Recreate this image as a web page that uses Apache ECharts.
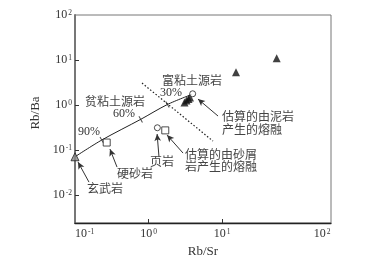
<!DOCTYPE html>
<html><head><meta charset="utf-8">
<script src="https://cdn.jsdelivr.net/npm/echarts@6/dist/echarts.min.js"></script>
<style>html,body{margin:0;padding:0;background:#fff}#c{width:379px;height:265px}</style>
</head><body><div id="c"></div>
<script>
// ---- axis ranges and ticks ----
const xMin = 0.1, xMax = 304;
const yMin = 0.0024, yMax = 100;
const xTickValues = [1, 10];
const yTickValues = [0.01, 0.1, 1, 10];
const xLabelValues = [0.1, 1, 10, 300];
const xLabelExps = ['-1', '0', '1', '2'];
const yLabelValues = [0.01, 0.1, 1, 10, 100];
const yLabelExps = ['-2', '-1', '0', '1', '2'];

// ---- data (Rb/Sr, Rb/Ba) ----
const mixCurve = [[0.1, 0.071], [0.231, 0.167], [0.783, 0.481], [1.81, 1.03], [3.91, 1.73]];
const mixTicks = [[0.231, 0.167], [0.783, 0.481], [1.81, 1.03]];
const basalt = [[0.1, 0.071]];
const greywacke = [[0.27, 0.147]];
const shale = [[1.32, 0.313]];
const psammiteMelt = [[1.69, 0.274]];
const peliteMelt = [[3.99, 1.78]];
const clayRichSource = [[3.09, 1.14], [3.29, 1.26], [3.50, 1.36], [3.67, 1.47], [15.5, 5.33], [55.5, 10.9]];
const dividerLine = [[0.816, 3.08], [7.55, 0.158]];
// arrows: [from (label side), to (point side)]
const arrows = [
  [[0.155, 0.0194], [0.110, 0.0541]],
  [[0.373, 0.0419], [0.299, 0.105]],
  [[1.39, 0.0699], [1.31, 0.227]],
  [[2.95, 0.0858], [1.79, 0.215]],
  [[8.83, 0.570], [4.71, 1.36]]
];

const serif = "'Liberation Serif','Times New Roman',serif";
const cjk = "'Noto Sans CJK SC',sans-serif";
const txtColor = '#333';
const cjkColor = '#444';

function expFor(values, exps, v) {
  for (let i = 0; i < values.length; i++) {
    if (Math.abs(Math.log10(v) - Math.log10(values[i])) < 0.02) return exps[i];
  }
  return '';
}
const richPow = {
  b: { fontSize: 12, fontFamily: serif, color: txtColor },
  s: { fontSize: 7.5, fontFamily: serif, color: txtColor, verticalAlign: 'top', padding: [0, 0, 0, 1] }
};

const annotations = [
  { t: '富粘土源岩', x: 162, y: 80, f: cjk },
  { t: '30%', x: 160, y: 93, f: serif },
  { t: '贫粘土源岩', x: 85, y: 101, f: cjk },
  { t: '60%', x: 113, y: 114, f: serif },
  { t: '90%', x: 78, y: 131.5, f: serif },
  { t: '硬砂岩', x: 117, y: 173, f: cjk },
  { t: '玄武岩', x: 87, y: 188, f: cjk },
  { t: '页岩', x: 150, y: 161, f: cjk },
  { t: '估算的由砂屑', x: 185, y: 154, f: cjk },
  { t: '岩产生的熔融', x: 185, y: 166, f: cjk },
  { t: '估算的由泥岩', x: 222, y: 116, f: cjk },
  { t: '产生的熔融', x: 222, y: 129, f: cjk }
];

const chart = echarts.init(document.getElementById('c'), null, { renderer: 'canvas' });
chart.setOption({
  animation: false,
  backgroundColor: '#fff',
  grid: { left: 75, right: 48, top: 15, bottom: 42, show: true, borderColor: '#777', borderWidth: 1 },
  xAxis: {
    type: 'log', logBase: 10, min: xMin, max: xMax,
    name: 'Rb/Sr', nameLocation: 'middle', nameGap: 20,
    nameTextStyle: { fontFamily: serif, fontSize: 13, color: txtColor },
    axisLine: { show: true, lineStyle: { color: '#222', width: 1.3 } },
    axisTick: { show: true, inside: true, length: 4, customValues: xTickValues, lineStyle: { color: '#333' } },
    axisLabel: {
      customValues: xLabelValues, margin: 5, rich: richPow,
      alignMinLabel: 'left', alignMaxLabel: 'right',
      formatter: v => '{b|10}{s|' + expFor(xLabelValues, xLabelExps, v) + '}'
    },
    splitLine: { show: false }, minorTick: { show: false }
  },
  yAxis: {
    type: 'log', logBase: 10, min: yMin, max: yMax,
    name: 'Rb/Ba', nameLocation: 'middle', nameGap: 27,
    nameTextStyle: { fontFamily: serif, fontSize: 13, color: txtColor, padding: [0, 0, 0, 12] },
    axisLine: { show: true, lineStyle: { color: '#777', width: 2 } },
    axisTick: { show: true, inside: true, length: 4, customValues: yTickValues, lineStyle: { color: '#333' } },
    axisLabel: {
      customValues: yLabelValues, margin: 3, rich: richPow,
      formatter: v => '{b|10}{s|' + expFor(yLabelValues, yLabelExps, v) + '}'
    },
    splitLine: { show: false }, minorTick: { show: false }
  },
  graphic: annotations.map(a => ({
    type: 'text', silent: true, z: 100,
    style: { x: a.x, y: a.y, text: a.t, fontFamily: a.f, fontSize: 12, fill: a.f === cjk ? cjkColor : txtColor, textAlign: 'left', textVerticalAlign: 'middle' }
  })),
  series: [
    { type: 'line', data: mixCurve, smooth: 0.3, symbol: 'none', lineStyle: { color: '#222', width: 1 }, z: 2 },
    { type: 'scatter', data: mixTicks, symbol: 'rect', symbolSize: [1, 7], symbolRotate: 30, itemStyle: { color: '#222' }, z: 3 },
    { type: 'line', data: dividerLine, symbol: 'none', lineStyle: { color: '#222', width: 1.2, type: [1.5, 2] }, z: 2 },
    { type: 'scatter', data: basalt, clip: false, symbol: 'triangle', symbolSize: 8, itemStyle: { color: '#888', borderColor: '#222', borderWidth: 1 }, z: 4 },
    { type: 'scatter', data: greywacke, symbol: 'rect', symbolSize: 7, itemStyle: { color: '#fff', borderColor: '#222', borderWidth: 1 }, z: 4 },
    { type: 'scatter', data: psammiteMelt, symbol: 'rect', symbolSize: 7, itemStyle: { color: '#fff', borderColor: '#222', borderWidth: 1 }, z: 4 },
    { type: 'scatter', data: shale, symbol: 'circle', symbolSize: 6, itemStyle: { color: '#fff', borderColor: '#222', borderWidth: 1 }, z: 4 },
    { type: 'scatter', data: peliteMelt, symbol: 'circle', symbolSize: 6, itemStyle: { color: '#fff', borderColor: '#222', borderWidth: 1 }, z: 4 },
    { type: 'scatter', data: clayRichSource, symbol: 'triangle', symbolSize: 8, itemStyle: { color: '#111' }, z: 3 },
    {
      type: 'scatter', data: [], z: 5,
      markLine: {
        silent: true, symbol: ['none', 'arrow'], symbolSize: [5, 7],
        lineStyle: { color: '#333', width: 1, type: 'solid' }, label: { show: false },
        data: arrows.map(a => [{ coord: a[0] }, { coord: a[1] }])
      }
    }
  ]
});
</script></body></html>
